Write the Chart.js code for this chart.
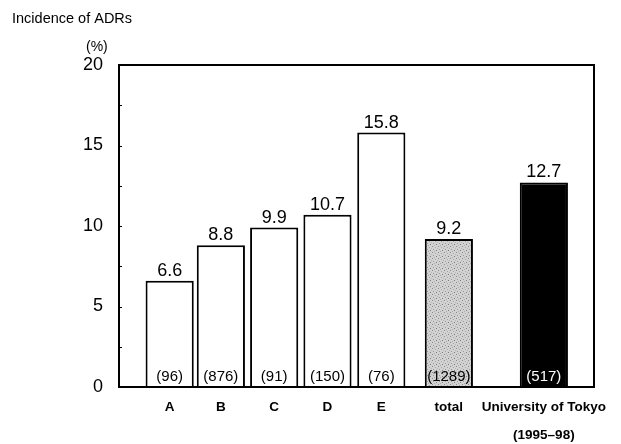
<!DOCTYPE html>
<html>
<head>
<meta charset="utf-8">
<script src="https://cdn.jsdelivr.net/npm/chart.js@4/dist/chart.umd.min.js"></script>
<style>
  html, body { margin: 0; padding: 0; background: #fff; }
  #wrap { width: 621px; height: 444px; }
</style>
</head>
<body>
<div id="wrap"><canvas id="adrChart" width="621" height="444"></canvas></div>
<script>
const categories = ['A', 'B', 'C', 'D', 'E', 'total', ['University of Tokyo', '(1995\u201398)']];
const positions = [0.96, 1.93, 2.94, 3.95, 4.97, 6.25, 8.05];
const incidence = [6.6, 8.8, 9.9, 10.7, 15.8, 9.2, 12.7];
const sampleSizes = ['(96)', '(876)', '(91)', '(150)', '(76)', '(1289)', '(517)'];
const yTicks = [0, 5, 10, 15, 20];

// speckled grey fill for the "total" bar
function makeSpeckle() {
  const c = document.createElement('canvas');
  c.width = 6; c.height = 6;
  const g = c.getContext('2d');
  g.fillStyle = '#d2d2d2';
  g.fillRect(0, 0, 6, 6);
  const dots = [[0,0,'#8a8a8a'],[3,1,'#a8a8a8'],[1,3,'#9a9a9a'],[4,4,'#7c7c7c'],[5,2,'#b4b4b4'],[2,5,'#aaaaaa']];
  dots.forEach(d => { g.fillStyle = d[2]; g.fillRect(d[0], d[1], 1, 1); });
  return g.createPattern(c, 'repeat');
}

const fills = ['#fff', '#fff', '#fff', '#fff', '#fff', makeSpeckle(), '#000'];

const decorPlugin = {
  id: 'decor',
  afterDatasetsDraw(chart) {
    const ctx = chart.ctx;
    const area = chart.chartArea;
    const y = chart.scales.y;
    const meta = chart.getDatasetMeta(0);
    ctx.save();
    // frame
    ctx.strokeStyle = '#000';
    ctx.lineWidth = 2;
    ctx.strokeRect(area.left, area.top, area.right - area.left, area.bottom - area.top);
    // small inward ticks
    ctx.lineWidth = 1;
    for (let v = 2.5; v < 20; v += 2.5) {
      const py = Math.round(y.getPixelForValue(v)) + 0.5;
      ctx.beginPath();
      ctx.moveTo(area.left, py);
      ctx.lineTo(area.left + 3, py);
      ctx.stroke();
    }
    // value labels and sample sizes
    ctx.textAlign = 'center';
    meta.data.forEach((bar, i) => {
      ctx.fillStyle = '#000';
      ctx.font = '18px "Liberation Sans", Arial, sans-serif';
      ctx.textBaseline = 'bottom';
      ctx.fillText(incidence[i].toFixed(1), bar.x, bar.y - 1);
      ctx.font = '15px "Liberation Sans", Arial, sans-serif';
      ctx.textBaseline = 'alphabetic';
      ctx.fillStyle = i === 6 ? '#fff' : '#000';
      ctx.fillText(sampleSizes[i], bar.x, area.bottom - 6);
    });
    // titles
    ctx.fillStyle = '#000';
    ctx.textAlign = 'left';
    ctx.font = '14.5px "Liberation Sans", Arial, sans-serif';
    ctx.fillText('Incidence of ADRs', 12, 23);
    ctx.font = '14px "Liberation Sans", Arial, sans-serif';
    ctx.fillText('(%)', 86, 51);
    ctx.restore();
  }
};

new Chart(document.getElementById('adrChart').getContext('2d'), {
  type: 'bar',
  data: {
    datasets: [{
      data: positions.map((p, i) => ({ x: p, y: incidence[i] })),
      backgroundColor: fills,
      borderColor: '#000',
      borderWidth: 2,
      borderSkipped: 'bottom',
      barPercentage: 0.97,
      categoryPercentage: 0.97
    }]
  },
  options: {
    responsive: false,
    animation: false,
    layout: { padding: { left: 0, right: 27, top: 65, bottom: 0 } },
    plugins: { legend: { display: false }, tooltip: { enabled: false } },
    scales: {
      x: {
        type: 'linear',
        min: 0,
        max: 9,
        offset: false,
        grid: { display: false, drawTicks: false, offset: false },
        border: { display: false },
        afterBuildTicks(scale) {
          scale.ticks = positions.map(p => ({ value: p }));
        },
        afterFit(scale) { scale.height = 57; },
        ticks: {
          autoSkip: false,
          maxRotation: 0,
          padding: 6,
          color: '#000',
          font: { family: '"Liberation Sans", Arial, sans-serif', size: 13.5, weight: 'bold', lineHeight: 2.1 },
          callback(value) {
            const i = positions.indexOf(value);
            return i >= 0 ? categories[i] : '';
          }
        }
      },
      y: {
        min: 0,
        max: 20,
        afterBuildTicks(scale) {
          scale.ticks = yTicks.map(v => ({ value: v }));
        },
        afterFit(scale) { scale.width = 119; },
        grid: { display: false, drawTicks: false },
        border: { display: false },
        ticks: {
          padding: 16,
          color: '#000',
          font: { family: '"Liberation Sans", Arial, sans-serif', size: 18 }
        }
      }
    }
  },
  plugins: [decorPlugin]
});
</script>
</body>
</html>
